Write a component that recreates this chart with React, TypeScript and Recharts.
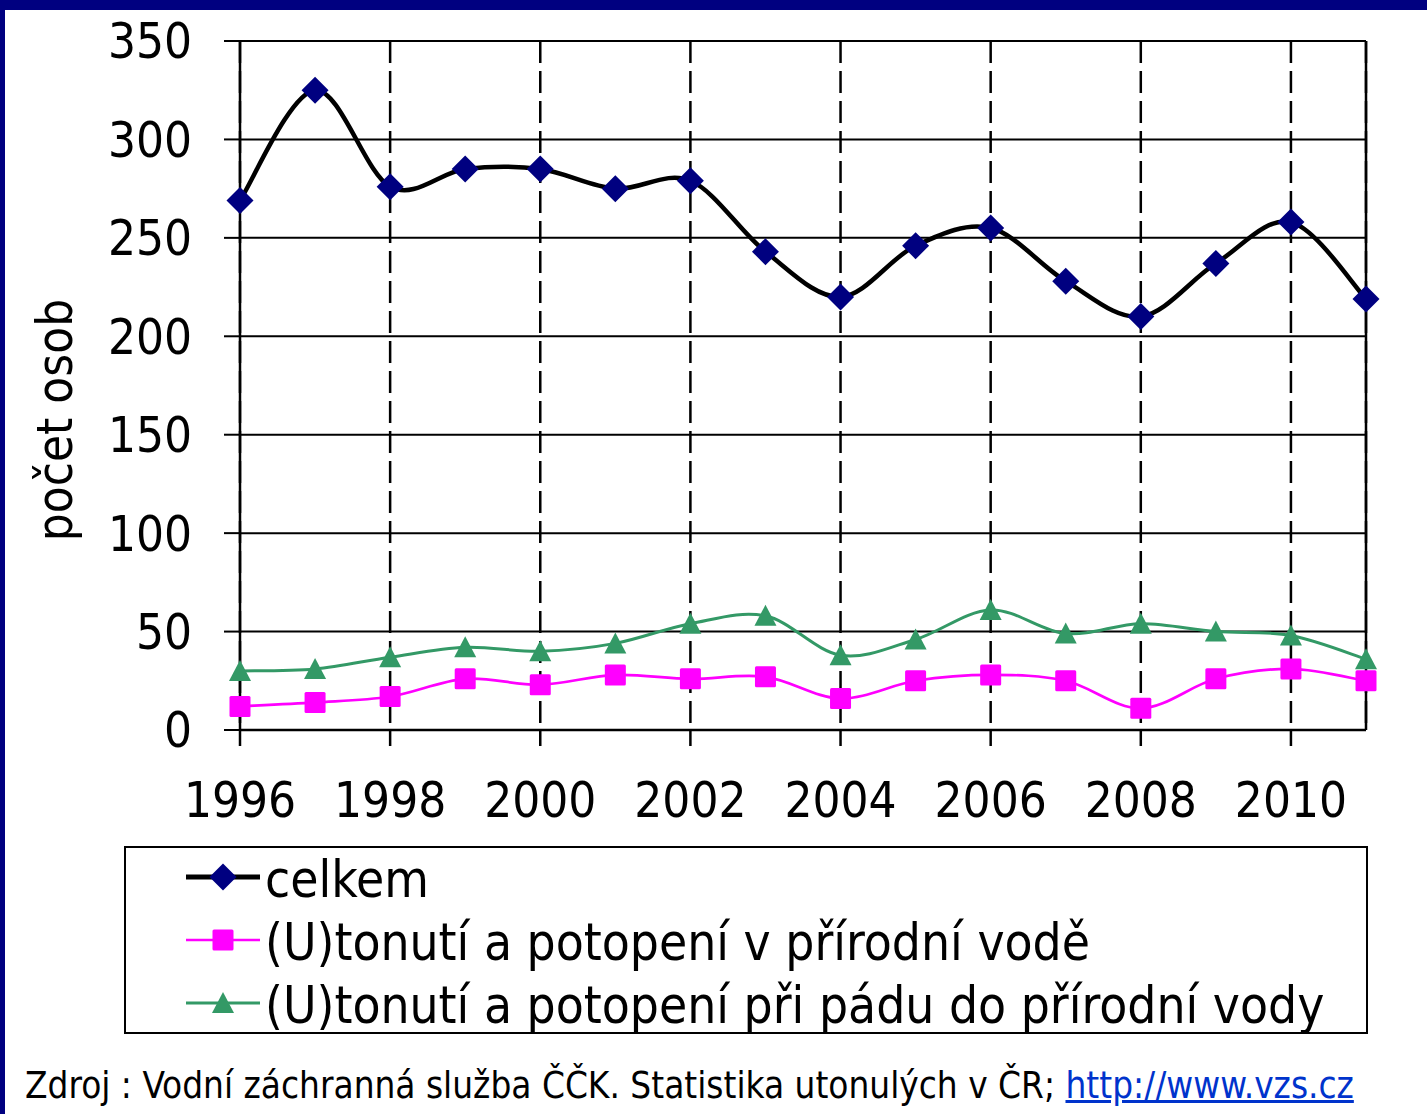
import { LineChart, Line, XAxis, YAxis, CartesianGrid, ReferenceLine, Legend } from 'recharts'

const years = [1996, 1997, 1998, 1999, 2000, 2001, 2002, 2003, 2004, 2005, 2006, 2007, 2008, 2009, 2010, 2011]
const celkem = [269, 325, 276, 285, 285, 275, 279, 243, 220, 246, 255, 228, 210, 237, 258, 219]
const prirodniVoda = [12, 14, 17, 26, 23, 28, 26, 27, 16, 25, 28, 25, 11, 26, 31, 25]
const padDoVody = [30, 31, 37, 42, 40, 44, 54, 58, 38, 46, 61, 49, 54, 50, 48, 36]

const yTicks = [0, 50, 100, 150, 200, 250, 300, 350]
const xTicks = [1996, 1998, 2000, 2002, 2004, 2006, 2008, 2010]

const names = {
  celkem: 'celkem',
  voda: '(U)tonutí a potopení v přírodní vodě',
  pad: '(U)tonutí a potopení při pádu do přírodní vody',
}

const data = years.map((y, i) => ({ year: y, celkem: celkem[i], voda: prirodniVoda[i], pad: padDoVody[i] }))

const FONT = "'DejaVu Sans Condensed', 'DejaVu Sans', sans-serif"
const NAVY = '#000080'
const PINK = '#ff00ff'
const GREEN = '#339966'

// excel-like smoothing (catmull-rom through the points)
function excelSmooth(context: any) {
  let pts: number[][] = []
  return {
    areaStart() {},
    areaEnd() {},
    lineStart() { pts = [] },
    point(x: number, y: number) { pts.push([+x, +y]) },
    lineEnd() {
      const n = pts.length
      if (!n) return
      context.moveTo(pts[0][0], pts[0][1])
      for (let i = 0; i < n - 1; i++) {
        const p0 = pts[Math.max(i - 1, 0)], p1 = pts[i], p2 = pts[i + 1], p3 = pts[Math.min(i + 2, n - 1)]
        context.bezierCurveTo(
          p1[0] + (p2[0] - p0[0]) / 6, p1[1] + (p2[1] - p0[1]) / 6,
          p2[0] - (p3[0] - p1[0]) / 6, p2[1] - (p3[1] - p1[1]) / 6,
          p2[0], p2[1],
        )
      }
    },
  }
}

function Marker({ kind, cx, cy }: { kind: string; cx: number; cy: number }) {
  if (kind === 'diamond') {
    const r = 13.5
    return <polygon points={`${cx},${cy - r} ${cx + r},${cy} ${cx},${cy + r} ${cx - r},${cy}`} fill={NAVY} />
  }
  if (kind === 'square') {
    return <rect x={cx - 10.5} y={cy - 10.5} width={21} height={21} rx={1.5} fill={PINK} />
  }
  return <polygon points={`${cx},${cy - 11} ${cx + 11},${cy + 10} ${cx - 11},${cy + 10}`} fill={GREEN} />
}

const dotFor = (kind: string) => (p: any) => <Marker key={`${kind}-${p.index}`} kind={kind} cx={p.cx} cy={p.cy} />

const legendRows = [
  { key: 'celkem', kind: 'diamond', color: '#000', width: 5 },
  { key: 'voda', kind: 'square', color: PINK, width: 2.7 },
  { key: 'pad', kind: 'triangle', color: GREEN, width: 3 },
]

function LegendBox() {
  return (
    <div style={{ width: 1244, height: 188, border: '2px solid #000', boxSizing: 'border-box', background: '#fff', position: 'relative' }}>
      {legendRows.map((r, i) => (
        <div key={r.key} style={{ position: 'absolute', left: 59, top: 2 + i * 63, height: 60, display: 'flex', alignItems: 'center' }}>
          <svg width={76} height={60} style={{ display: 'block' }}>
            <line x1={1} x2={75} y1={27} y2={27} stroke={r.color} strokeWidth={r.width} />
            <Marker kind={r.kind} cx={38} cy={27} />
          </svg>
          <span style={{ fontFamily: FONT, fontSize: 51, lineHeight: '60px', color: '#000', marginLeft: 4, whiteSpace: 'nowrap' }}>
            {names[r.key as keyof typeof names]}
          </span>
        </div>
      ))}
    </div>
  )
}

export default function App() {
  return (
    <div style={{ position: 'absolute', left: 0, top: 0, width: 1427, height: 1114, background: '#fff', overflow: 'hidden' }}>
      <LineChart
        width={1427}
        height={1114}
        data={data}
        margin={{ top: 41, right: 61, bottom: 334, left: 0 }}
        style={{ fontFamily: FONT }}
      >
        <CartesianGrid horizontal={true} vertical={false} stroke="#000" strokeWidth={2} />
        <CartesianGrid horizontal={false} vertical={true} stroke="#000" strokeWidth={2.5} strokeDasharray="22 8" />
        <XAxis
          dataKey="year"
          type="number"
          domain={[1996, 2011]}
          ticks={xTicks}
          height={50}
          tickSize={16}
          tickMargin={36}
          axisLine={{ stroke: '#000', strokeWidth: 2.5 }}
          tickLine={{ stroke: '#000', strokeWidth: 2.5 }}
          tick={{ fill: '#000', fontSize: 49, fontFamily: FONT }}
          interval={0}
        />
        <YAxis
          domain={[0, 350]}
          ticks={yTicks}
          width={240}
          tickSize={16}
          tickMargin={32}
          axisLine={{ stroke: '#000', strokeWidth: 2.5 }}
          tickLine={{ stroke: '#000', strokeWidth: 2 }}
          tick={{ fill: '#000', fontSize: 49, fontFamily: FONT }}
          interval={0}
          label={{
            value: 'počet osob',
            content: () => (
              <text x={72} y={420} transform="rotate(-90 72 420)" textAnchor="middle" fontSize={49} fontFamily={FONT} fill="#000">
                počet osob
              </text>
            ),
          }}
        />
        <ReferenceLine x={2011} stroke="#000" strokeWidth={2.5} />
        <Line dataKey="celkem" name={names.celkem} type={excelSmooth as any} stroke="#000" strokeWidth={4.5} dot={dotFor('diamond')} activeDot={false} isAnimationActive={false} />
        <Line dataKey="pad" name={names.pad} type={excelSmooth as any} stroke={GREEN} strokeWidth={3} dot={dotFor('triangle')} activeDot={false} isAnimationActive={false} />
        <Line dataKey="voda" name={names.voda} type={excelSmooth as any} stroke={PINK} strokeWidth={2.7} dot={dotFor('square')} activeDot={false} isAnimationActive={false} />
        <Legend
          layout="horizontal"
          verticalAlign="middle"
          align="center"
          content={() => <LegendBox />}
          wrapperStyle={{ position: 'absolute', left: 124, top: 846, width: 1244, height: 188 }}
        />
      </LineChart>
      <div style={{ position: 'absolute', left: 0, top: 0, width: 1427, height: 10, background: NAVY }} />
      <div style={{ position: 'absolute', left: 0, top: 0, width: 5, height: 1114, background: NAVY }} />
      <div style={{ position: 'absolute', left: 25, top: 1064, fontFamily: FONT, fontSize: 36.6, lineHeight: '44px', color: '#000', whiteSpace: 'nowrap' }}>
        Zdroj : Vodní záchranná služba ČČK. Statistika utonulých v ČR;{' '}
        <span style={{ color: '#0033cc', textDecoration: 'underline' }}>http://www.vzs.cz</span>
      </div>
    </div>
  )
}
